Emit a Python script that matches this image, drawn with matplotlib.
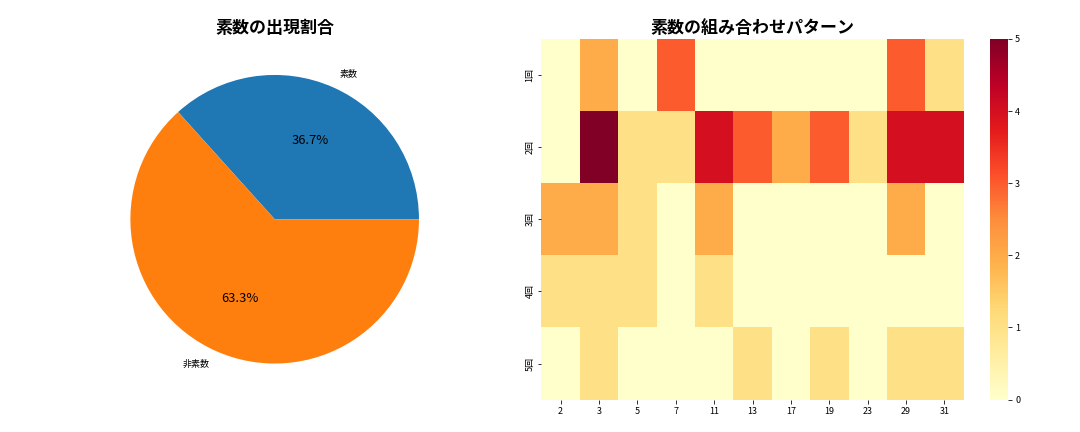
import matplotlib
matplotlib.use("Agg")
import matplotlib.pyplot as plt
import seaborn as sns
import numpy as np

plt.rcParams['font.family'] = ['Noto Sans CJK JP', 'DejaVu Sans']

pie_labels = ['素数', '非素数']
pie_values = [11, 19]

primes = ['2', '3', '5', '7', '11', '13', '17', '19', '23', '29', '31']
rows = ['1回', '2回', '3回', '4回', '5回']
counts = [
    [0, 2, 0, 3, 0, 0, 0, 0, 0, 3, 1],
    [0, 5, 1, 1, 4, 3, 2, 3, 1, 4, 4],
    [2, 2, 1, 0, 2, 0, 0, 0, 0, 2, 0],
    [1, 1, 1, 0, 1, 0, 0, 0, 0, 0, 0],
    [0, 1, 0, 0, 0, 1, 0, 1, 0, 1, 1],
]

fig, (ax1, ax2) = plt.subplots(1, 2, figsize=(15, 6), dpi=72)
ax1.pie(pie_values, labels=pie_labels, autopct='%1.1f%%',
        textprops={'fontsize': 13}, colors=['#1f77b4', '#ff7f0e'])
for t in ax1.texts:
    if t.get_text() in pie_labels:
        t.set_fontsize(9)
ax1.set_title('素数の出現割合', fontsize=17, fontweight='bold')

sns.heatmap(np.array(counts), ax=ax2, cmap='YlOrRd', xticklabels=primes,
            yticklabels=rows, vmin=0, vmax=5)
ax2.tick_params(labelsize=9)
ax2.collections[0].colorbar.ax.tick_params(labelsize=9)
ax2.set_title('素数の組み合わせパターン', fontsize=17, fontweight='bold')
plt.tight_layout()
fig.subplots_adjust(top=0.91, bottom=0.075)
fig.savefig('out.png', dpi=72)
